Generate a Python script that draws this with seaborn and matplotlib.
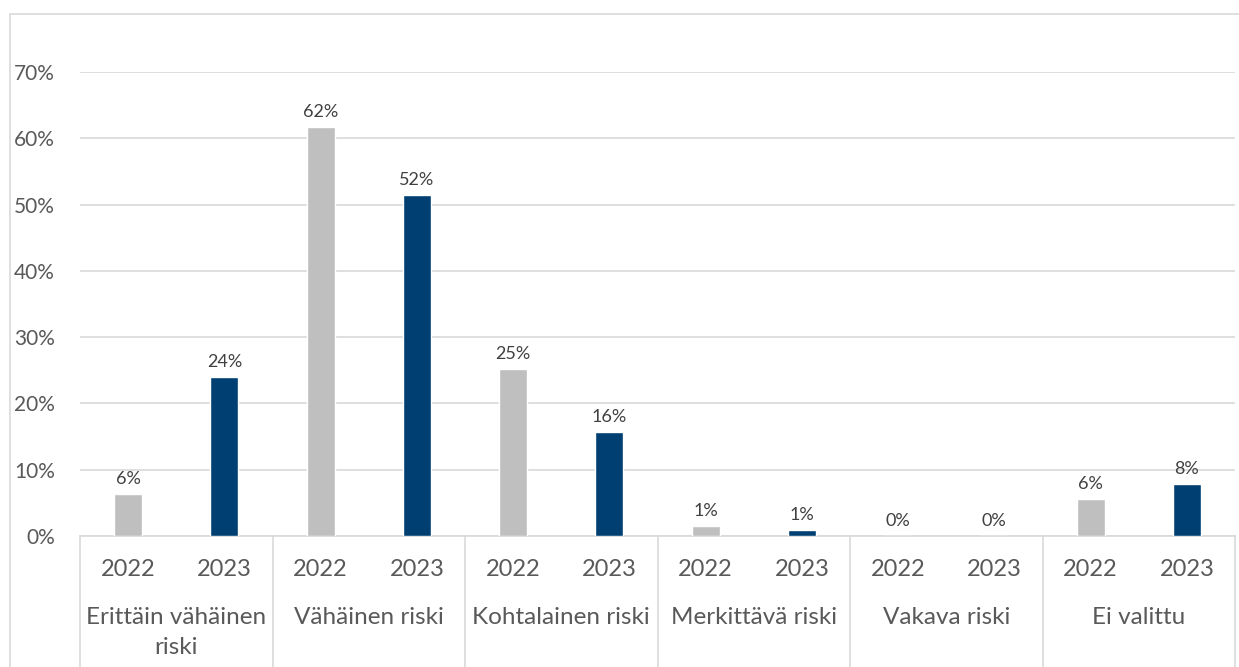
import matplotlib
matplotlib.use("Agg")
import matplotlib.pyplot as plt
import matplotlib.transforms as mtransforms
from matplotlib.patches import Rectangle
from matplotlib.ticker import PercentFormatter
import pandas as pd
import seaborn as sns

# --- data ---
categories = ["Erittäin vähäinen\nriski", "Vähäinen riski", "Kohtalainen riski",
              "Merkittävä riski", "Vakava riski", "Ei valittu"]
years = ["2022", "2023"]
share_2022 = [6.3, 61.7, 25.2, 1.5, 0.0, 5.6]
share_2023 = [24.0, 51.4, 15.7, 0.9, 0.0, 7.8]
value_labels_2022 = ["6%", "62%", "25%", "1%", "0%", "6%"]
value_labels_2023 = ["24%", "52%", "16%", "1%", "0%", "8%"]

rows = []
for i, cat in enumerate(categories):
    rows.append({"slot": f"{i}-2022", "year": "2022", "share": share_2022[i], "label": value_labels_2022[i]})
    rows.append({"slot": f"{i}-2023", "year": "2023", "share": share_2023[i], "label": value_labels_2023[i]})
df = pd.DataFrame(rows)

sns.set_style("white")
plt.rcParams["font.family"] = ["Lato", "DejaVu Sans"]

fig = plt.figure(figsize=(12.39, 6.67), dpi=100)
ax = fig.add_axes([80 / 1239, 1 - 536 / 667, 1155 / 1239, 464 / 667])

# outer chart frame
fig.patches.append(Rectangle((10 / 1239, -0.05), 1.2, 1 - 14 / 667 + 0.05,
                             transform=fig.transFigure, fill=False,
                             edgecolor="#d9d9d9", linewidth=1.2))

palette = {"2022": "#bfbfbf", "2023": "#003f72"}
sns.barplot(data=df, x="slot", y="share", hue="year", palette=palette,
            dodge=False, width=0.29, saturation=1, legend=False, ax=ax, zorder=3)

ax.set_ylim(0, 70)
ax.set_xlim(-0.5, len(df) - 0.5)
ax.set_yticks(range(0, 71, 10))
ax.yaxis.set_major_formatter(PercentFormatter(decimals=0))
ax.tick_params(axis="y", length=0, pad=18, labelsize=15, labelcolor="#595959")
ax.set_xticks([])
ax.set_xlabel("")
ax.set_ylabel("")
ax.grid(axis="y", color="#d9d9d9", linewidth=1.2, zorder=0)
for side in ["top", "right", "left"]:
    ax.spines[side].set_visible(False)
ax.spines["bottom"].set_color("#d9d9d9")
ax.spines["bottom"].set_linewidth(1.2)

# value labels
for x, (val, lab) in enumerate(zip(df["share"], df["label"])):
    ax.annotate(lab, (x, val), xytext=(0, 5), textcoords="offset points",
                ha="center", va="bottom", fontsize=13, color="#404040")

# two-level category axis
trans = mtransforms.blended_transform_factory(ax.transData, ax.transAxes)
for x, yr in enumerate(df["year"]):
    ax.text(x, -0.073, yr, transform=trans, ha="center", va="center",
            fontsize=17, color="#595959")
for i, cat in enumerate(categories):
    ax.text(2 * i + 0.5, -0.152, cat, transform=trans, ha="center", va="top",
            fontsize=17.5, color="#595959", linespacing=1.55)
for b in range(len(categories) + 1):
    ax.plot([2 * b - 0.5, 2 * b - 0.5], [0, -0.35], transform=trans,
            color="#d9d9d9", linewidth=1.2, clip_on=False)

fig.savefig("out.png", dpi=100, facecolor="white")
